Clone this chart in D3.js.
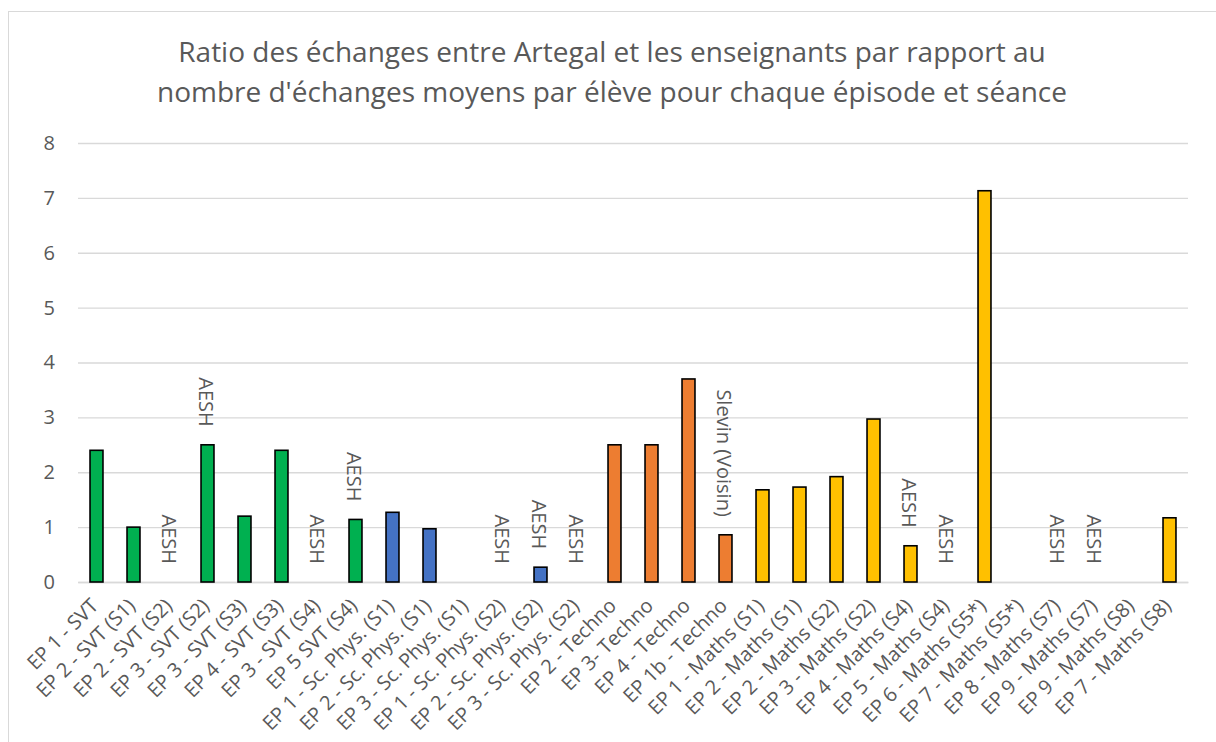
<!DOCTYPE html>
<html>
<head>
<meta charset="utf-8">
<script src="https://cdn.jsdelivr.net/npm/d3@7"></script>
<style>
  html, body { margin: 0; padding: 0; background: #fff; }
  svg { display: block; font-family: "Open Sans", Lato, sans-serif; }
</style>
</head>
<body>
<svg id="chart" width="1216" height="742"></svg>
<script>
// Episodes / sessions along the x axis
const categories = [
  "EP 1 - SVT", "EP 2 - SVT (S1)", "EP 2 - SVT (S2)", "EP 3 - SVT (S2)", "EP 3 - SVT (S3)",
  "EP 4 - SVT (S3)", "EP 3 - SVT (S4)", "EP 5 SVT (S4)", "EP 1 - Sc. Phys. (S1)", "EP 2 - Sc. Phys. (S1)",
  "EP 3 - Sc. Phys. (S1)", "EP 1 - Sc. Phys. (S2)", "EP 2 - Sc. Phys. (S2)", "EP 3 - Sc. Phys. (S2)", "EP 2 - Techno",
  "EP 3- Techno", "EP 4 - Techno", "EP 1b - Techno", "EP 1 - Maths (S1)", "EP 2 - Maths (S1)",
  "EP 2 - Maths (S2)", "EP 3 - Maths (S2)", "EP 4 - Maths (S4)", "EP 5 - Maths (S4)", "EP 6 - Maths (S5*)",
  "EP 7 - Maths (S5*)", "EP 8 - Maths (S7)", "EP 9 - Maths (S7)", "EP 9 - Maths (S8)", "EP 7 - Maths (S8)"
];

// Ratio of exchanges (Artegal vs teachers) relative to the mean per pupil
const ratios = [
  2.40, 1.00, 0, 2.50, 1.20,
  2.40, 0, 1.14, 1.27, 0.97,
  0, 0, 0.27, 0, 2.50,
  2.50, 3.70, 0.86, 1.68, 1.73,
  1.92, 2.97, 0.66, 0, 7.13,
  0, 0, 0, 0, 1.17
];

// Subject of each episode (drives the bar colour)
const subjects = [
  "SVT", "SVT", "SVT", "SVT", "SVT",
  "SVT", "SVT", "SVT", "Phys", "Phys",
  "Phys", "Phys", "Phys", "Phys", "Techno",
  "Techno", "Techno", "Techno", "Maths", "Maths",
  "Maths", "Maths", "Maths", "Maths", "Maths",
  "Maths", "Maths", "Maths", "Maths", "Maths"
];

// Annotation written above each bar
const notes = [
  "", "", "AESH", "AESH", "",
  "", "AESH", "AESH", "", "",
  "", "AESH", "AESH", "AESH", "",
  "", "", "Slevin (Voisin)", "", "",
  "", "", "AESH", "AESH", "",
  "", "AESH", "AESH", "", ""
];

const yTicks = [0, 1, 2, 3, 4, 5, 6, 7, 8];

const titleLines = [
  "Ratio des échanges entre Artegal et les enseignants par rapport au",
  "nombre d'échanges moyens par élève pour chaque épisode et séance"
];

const subjectColors = { SVT: "#00b050", Phys: "#4472c4", Techno: "#ed7d31", Maths: "#ffc000" };

const textColor = "#595959";
const gridColor = "#d9d9d9";
const fontStack = "'Open Sans', Lato, sans-serif";

const svg = d3.select("#chart");

// Chart frame
svg.append("rect")
  .attr("x", 8.5).attr("y", 11.5)
  .attr("width", 1220).attr("height", 760)
  .attr("fill", "#fff")
  .attr("stroke", gridColor)
  .attr("stroke-width", 1);

const plot = { left: 78, right: 1188, top: 143, bottom: 582 };

const x = d3.scaleBand()
  .domain(categories)
  .range([plot.left, plot.right])
  .paddingInner(0.65)
  .paddingOuter(0.325);

const y = d3.scaleLinear()
  .domain([0, 8])
  .range([plot.bottom, plot.top]);

// Title
svg.append("text")
  .attr("x", 612)
  .attr("text-anchor", "middle")
  .attr("fill", textColor)
  .attr("font-size", 28)
  .selectAll("tspan")
  .data(titleLines)
  .join("tspan")
  .attr("x", 612)
  .attr("y", (d, i) => 62 + i * 40)
  .text(d => d);

// Horizontal gridlines and y tick labels
const yAxis = d3.axisLeft(y)
  .tickValues(yTicks)
  .tickSize(-(plot.right - plot.left))
  .tickPadding(23)
  .tickFormat(d3.format("d"));

const gy = svg.append("g")
  .attr("transform", `translate(${plot.left},0)`)
  .call(yAxis);
gy.select(".domain").remove();
gy.selectAll(".tick line").attr("stroke", gridColor).attr("stroke-width", 1.3);
gy.selectAll(".tick text")
  .attr("fill", textColor)
  .attr("font-size", 20)
  .attr("font-family", fontStack);

// Category axis
const xAxis = d3.axisBottom(x).tickSize(0).tickPadding(0);
const gx = svg.append("g")
  .attr("transform", `translate(0,${plot.bottom})`)
  .call(xAxis);
gx.select(".domain").attr("stroke", gridColor).attr("stroke-width", 1.3);
gx.selectAll(".tick text")
  .attr("fill", textColor)
  .attr("font-size", 20)
  .attr("font-family", fontStack)
  .attr("text-anchor", "end")
  .attr("dy", null)
  .attr("y", 0)
  .attr("transform", "translate(3,25) rotate(-45)");

// Bars
svg.append("g")
  .selectAll("rect")
  .data(categories.map((c, i) => ({ c, v: ratios[i], s: subjects[i] })).filter(d => d.v > 0))
  .join("rect")
  .attr("x", d => x(d.c))
  .attr("y", d => y(d.v))
  .attr("width", x.bandwidth())
  .attr("height", d => y(0) - y(d.v))
  .attr("fill", d => subjectColors[d.s])
  .attr("stroke", "#000")
  .attr("stroke-width", 1.6);

// Vertical annotations above the bars
svg.append("g")
  .selectAll("text")
  .data(categories.map((c, i) => ({ c, v: ratios[i], n: notes[i] })).filter(d => d.n))
  .join("text")
  .attr("transform", d => `translate(${x(d.c) + x.bandwidth() / 2 - 1},${y(d.v) - 18}) rotate(90)`)
  .attr("text-anchor", "end")
  .attr("dominant-baseline", "central")
  .attr("fill", textColor)
  .attr("font-size", 20)
  .text(d => d.n);
</script>
</body>
</html>
